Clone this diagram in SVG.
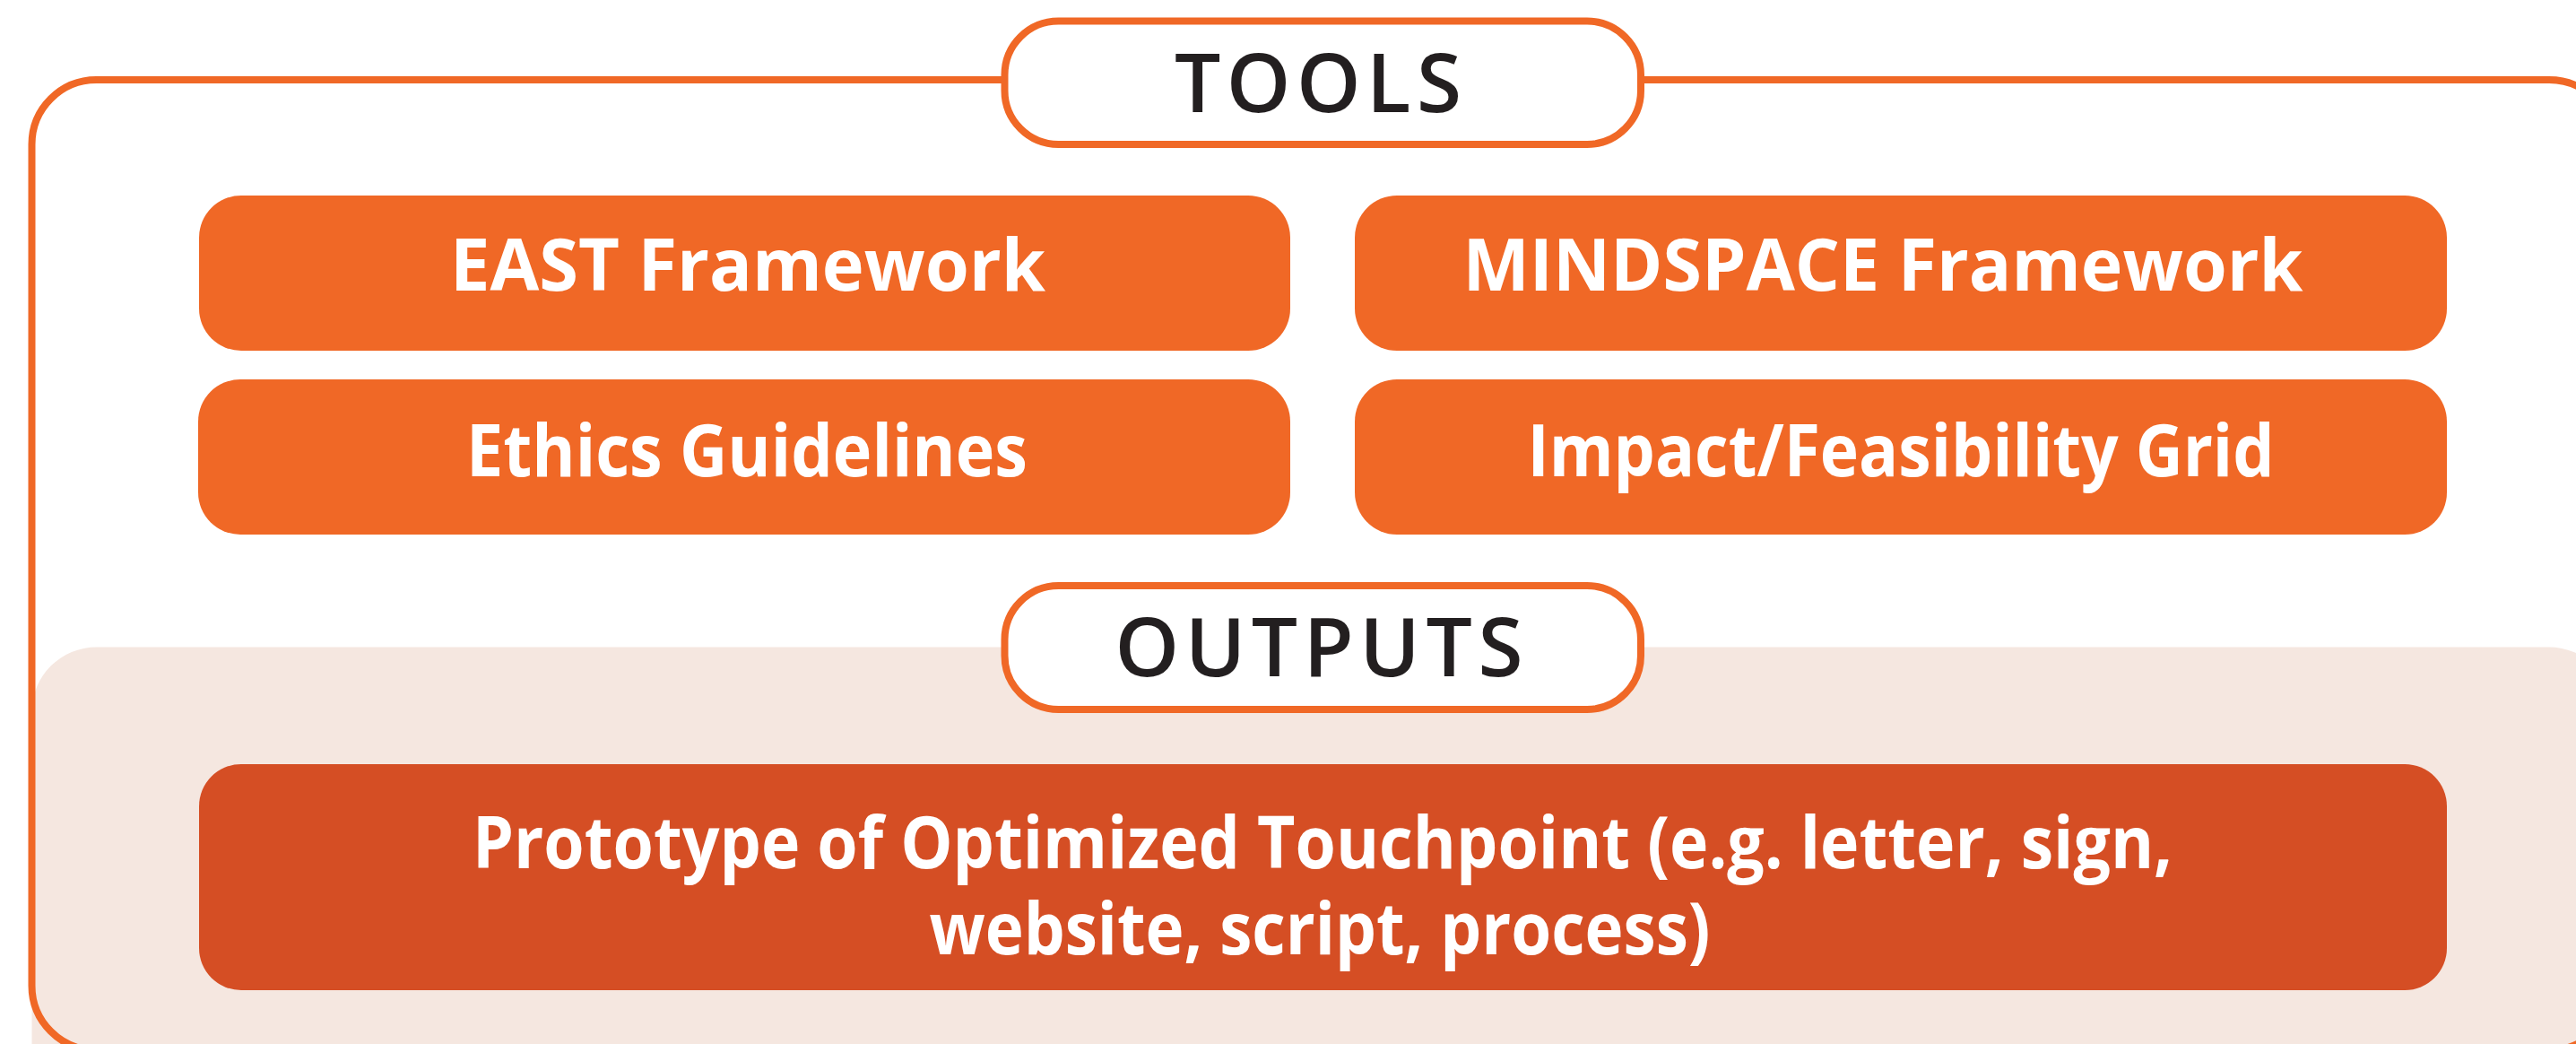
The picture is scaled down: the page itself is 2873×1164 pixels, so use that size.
<svg xmlns="http://www.w3.org/2000/svg" width="2873" height="1164" viewBox="0 0 2873 1164">
<style>
.frame{fill:none;stroke:#F06826;stroke-width:8}
.pink{fill:#F5E7E0}
.pill{fill:#FFFFFF;stroke:#F06826;stroke-width:8}
.node{fill:#F06826}
.out{fill:#D54E24}
.nt{font-family:"Open Sans","Noto Sans",sans-serif;font-weight:700;font-size:80px;fill:#FFFFFF;text-anchor:middle}
.ht{font-family:"Open Sans","Noto Sans",sans-serif;font-weight:600;font-size:91px;fill:#231F20;text-anchor:middle}
</style>
<rect width="2873" height="1164" fill="#FFFFFF"/>
<g id="background">
<rect class="pink" x="35.5" y="721.5" width="2879.5" height="620" rx="72"/>
<rect class="frame" x="35.5" y="89" width="2879.5" height="1082" rx="72"/>
</g>
<g id="connectors"/>
<g id="tools-header">
<rect class="pill" x="1120.5" y="23.5" width="709.5" height="137.5" rx="60"/>
<text class="ht" x="1470" y="125" textLength="320" lengthAdjust="spacing">TOOLS</text>
</g>
<g id="east">
<rect class="node" x="222" y="218" width="1217" height="173" rx="47"/>
<text class="nt" x="834" y="324" textLength="664" lengthAdjust="spacingAndGlyphs">EAST Framework</text>
</g>
<g id="mindspace">
<rect class="node" x="1511" y="218" width="1218" height="173" rx="47"/>
<text class="nt" x="2100" y="324" textLength="937" lengthAdjust="spacingAndGlyphs">MINDSPACE Framework</text>
</g>
<g id="ethics">
<rect class="node" x="221" y="423" width="1218" height="173" rx="47"/>
<text class="nt" x="833" y="531" textLength="626" lengthAdjust="spacingAndGlyphs">Ethics Guidelines</text>
</g>
<g id="impact">
<rect class="node" x="1511" y="423" width="1218" height="173" rx="47"/>
<text class="nt" x="2120" y="531" textLength="833" lengthAdjust="spacingAndGlyphs">Impact/Feasibility Grid</text>
</g>
<g id="outputs-header">
<rect class="pill" x="1120.5" y="653" width="709.5" height="138" rx="60"/>
<text class="ht" x="1471" y="754" textLength="455" lengthAdjust="spacing">OUTPUTS</text>
</g>
<g id="prototype">
<rect class="out" x="222" y="852" width="2507" height="252" rx="47"/>
<text class="nt"><tspan x="1475" y="968" textLength="1896" lengthAdjust="spacingAndGlyphs">Prototype of Optimized Touchpoint (e.g. letter, sign,</tspan><tspan x="1472" y="1064" textLength="871" lengthAdjust="spacingAndGlyphs">website, script, process)</tspan></text>
</g>
</svg>
